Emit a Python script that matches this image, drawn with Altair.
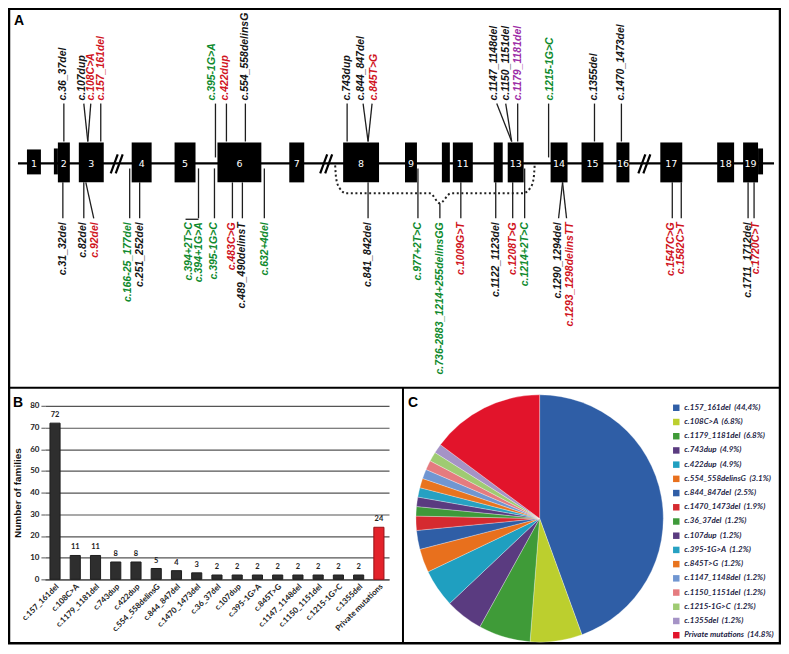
import altair as alt
import pandas as pd

W, H = 773, 636
NARROW = "Lato"
SANS = "Liberation Sans"

# ---------------- Panel A: schematic gene (drawing units) ----------------
exon_label = ["1", "2", "3", "4", "5", "6", "7", "8", "9", "", "11", "", "13", "14", "15", "16", "17", "18", "19"]
exon_start = [26, 57, 78, 131, 174, 217, 289, 343, 405, 442, 453, 494, 508, 551, 582, 617, 661, 718, 744]
exon_end = [40, 69, 103, 151, 195, 261, 304, 379, 417, 450, 473, 503, 524, 568, 604, 630, 683, 735, 759]
exon_type = ["utr"] + ["coding"] * 18
utr_start = [53, 759]
utr_end = [57, 764]
gene_span = [17, 775]
gap_marks = [116, 326, 645]

up_name = ["c.36_37del", "c.107dup", "c.108C>A", "c.157_161del", "c.395-1G>A", "c.422dup",
           "c.554_558delinsG", "c.743dup", "c.844_847del", "c.845T>G", "c.1147_1148del",
           "c.1150_1151del", "c.1179_1181del", "c.1215-1G>C", "c.1355del", "c.1470_1473del"]
up_col = ["k", "k", "r", "r", "g", "r", "k", "k", "k", "r", "k", "k", "p", "g", "k", "k"]
up_label_x = [62, 81, 90, 100, 212, 225, 245, 347, 361, 374, 494, 506, 518, 550, 595, 622]
up_stem_x = [63, 83, 90, 100, 215, 226, 245, 347, 363, 372, 497, 506, 518, 549, 595, 622]
up_site_x = [63, 87, 87, 100, 215, 226, 245, 347, 368, 368, 512, 512, 518, 549, 595, 622]
up_kind = ["exon", "exon", "exon", "exon", "intron", "exon", "exon", "exon", "exon", "exon",
           "exon", "exon", "exon", "intron", "exon", "exon"]

lo_name = ["c.31_32del", "c.82del", "c.92del", "c.166-25_177del", "c.251_252del", "c.394+2T>C",
           "c.394+1G>A", "c.395-1G>C", "c.483C>G", "c.489_490delinsT", "c.632+4del", "c.841_842del",
           "c.977+2T>C", "c.736-2883_1214+255delinsGG", "c.1009G>T", "c.1122_1123del", "c.1208T>G",
           "c.1214+2T>C", "c.1290_1294del", "c.1293_1298delinsTT", "c.1547C>G", "c.1582C>T",
           "c.1711_1712del", "c.1720C>T"]
lo_col = ["k", "k", "r", "g", "k", "g", "g", "g", "r", "k", "g", "k", "g", "g", "r", "k", "r", "g",
          "k", "r", "r", "r", "k", "r"]
lo_label_x = [62, 82, 94, 127, 139, 188, 199, 214, 232, 242, 265, 368, 418, 440, 461, 496, 513, 525,
              558, 570, 672, 682, 749, 757]
lo_stem_x = [62, 83, 93, 129, 139, 198, 198, 214, 232, 242, 264, 368, 418, 440, 461, 496, 513, 525,
             559, 567, 673, 682, 749, 755]
lo_site_x = [62, 83, 85, 129, 139, 198, 198, 214, 232, 242, 264, 368, 418, 440, 461, 496, 513, 525,
             563, 563, 673, 682, 749, 755]
lo_kind = ["exon", "exon", "exon", "intron", "exon", "intron", "none", "intron", "exon", "exon",
           "intron", "exon", "intron", "brace", "exon", "exon", "exon", "intron", "exon", "exon",
           "exon", "exon", "exon", "exon"]
bracket_from = [185]
bracket_to = [198]

brace_x = [335, 336, 339, 346, 430, 440, 451, 523, 531, 534, 535]
brace_y = [2, 15, 24, 30, 30, 40, 30, 30, 24, 15, 2]

mut_colors = ["#151515", "#d0141e", "#0f8a2e", "#9d2ea6"]
mut_kinds = ["k", "r", "g", "p"]

# ---------------- Panel B / C data ----------------
mutations = ["c.157_161del", "c.108C>A", "c.1179_1181del", "c.743dup", "c.422dup", "c.554_558delinsG",
             "c.844_847del", "c.1470_1473del", "c.36_37del", "c.107dup", "c.395-1G>A", "c.845T>G",
             "c.1147_1148del", "c.1150_1151del", "c.1215-1G>C", "c.1355del", "Private mutations"]
families = [72, 11, 11, 8, 8, 5, 4, 3, 2, 2, 2, 2, 2, 2, 2, 2, 24]
pct_text = ["44,4%", "6.8%", "6.8%", "4.9%", "4.9%", "3.1%", "2.5%", "1.9%", "1.2%", "1.2%", "1.2%",
            "1.2%", "1.2%", "1.2%", "1.2%", "1.2%", "14.8%"]
pie_colors = ["#2f5ea6", "#bccf2e", "#3f9b38", "#5a3b80", "#1f9fc0", "#e8701d", "#2f5ea6", "#d52a30",
              "#3e9a3a", "#5a3b80", "#26a1c2", "#e8741f", "#7096d1", "#e57b7f", "#9fcb72", "#a593c6",
              "#e2142b"]
y_ticks = [0, 10, 20, 30, 40, 50, 60, 70, 80]


def sx():
    return alt.Scale(domain=[8, 8 + W], range=[0, W], nice=False, zero=False)


def sy():
    return alt.Scale(domain=[-155, -155 + H], range=[0, H], nice=False, zero=False)


def col_scale():
    return alt.Scale(domain=mut_kinds, range=mut_colors)


def X(f):
    return alt.X(f, scale=sx(), axis=None)


def Y(f):
    return alt.Y(f, scale=sy(), axis=None)


dummy = pd.DataFrame({"d": [0]})

gene_line = alt.Chart(pd.DataFrame({"s": [gene_span[0]], "e": [gene_span[1]], "y": [0]})).mark_rule(
    color="black", strokeWidth=2.4).encode(x=X("s:Q"), x2="e:Q", y=Y("y:Q"))

exon_df = pd.DataFrame({"lab": exon_label, "s": exon_start, "e": exon_end, "t": exon_type})
exons = alt.Chart(exon_df).transform_calculate(
    top="datum.t == 'utr' ? -14 : -21", bot="datum.t == 'utr' ? 11 : 19"
).mark_rect(color="black").encode(x=X("s:Q"), x2="e:Q", y=Y("top:Q"), y2="bot:Q")

utrs = alt.Chart(pd.DataFrame({"s": utr_start, "e": utr_end})).transform_calculate(
    top="-15", bot="11").mark_rect(color="black").encode(x=X("s:Q"), x2="e:Q", y=Y("top:Q"), y2="bot:Q")

exon_nums = alt.Chart(exon_df).transform_filter("datum.lab != ''").transform_calculate(
    mid="(datum.s + datum.e) / 2", yy="1"
).mark_text(color="white", font="DejaVu Sans", fontSize=9.5, baseline="middle", align="center").encode(
    x=X("mid:Q"), y=Y("yy:Q"), text="lab:N")

gap_df = pd.DataFrame([{"g": g, "k": k} for g in gap_marks for k in (0, 1)])
gaps = alt.Chart(gap_df).transform_calculate(
    xa="datum.g - 6 + 5 * datum.k", xb="datum.g + 1 + 5 * datum.k", ya="10", yb="-9"
).mark_rule(color="black", strokeWidth=2.2).encode(x=X("xa:Q"), x2="xb:Q", y=Y("ya:Q"), y2="yb:Q")

up_df = pd.DataFrame({"name": up_name, "col": up_col, "lx": up_label_x, "tx": up_stem_x,
                      "sx": up_site_x, "kind": up_kind})
up_stems = alt.Chart(up_df).transform_calculate(
    ya="-60", yb="datum.kind == 'intron' ? -6 : -22"
).mark_rule(color="#1e1e1e", strokeWidth=1.3).encode(x=X("tx:Q"), x2="sx:Q", y=Y("ya:Q"), y2="yb:Q")
up_labels = alt.Chart(up_df).transform_calculate(yy="-63").mark_text(
    angle=270, align="left", baseline="middle", font=SANS, fontSize=10.5, fontStyle="italic",
    fontWeight="bold").encode(x=X("lx:Q"), y=Y("yy:Q"), text="name:N",
                              color=alt.Color("col:N", scale=col_scale(), legend=None))

lo_df = pd.DataFrame({"name": lo_name, "col": lo_col, "lx": lo_label_x, "tx": lo_stem_x,
                      "sx": lo_site_x, "kind": lo_kind})
lo_stems = alt.Chart(lo_df).transform_filter("datum.kind != 'none'").transform_calculate(
    ya="55", yb="datum.kind == 'intron' ? 5 : (datum.kind == 'brace' ? 40 : 19)"
).mark_rule(color="#1e1e1e", strokeWidth=1.3).encode(x=X("tx:Q"), x2="sx:Q", y=Y("ya:Q"), y2="yb:Q")
lo_labels = alt.Chart(lo_df).transform_calculate(yy="59").mark_text(
    angle=270, align="right", baseline="middle", font=SANS, fontSize=10.5, fontStyle="italic",
    fontWeight="bold").encode(x=X("lx:Q"), y=Y("yy:Q"), text="name:N",
                              color=alt.Color("col:N", scale=col_scale(), legend=None))
bracket = alt.Chart(pd.DataFrame({"a": bracket_from, "b": bracket_to})).transform_calculate(
    yy="56").mark_rule(color="#1e1e1e", strokeWidth=1.3).encode(x=X("a:Q"), x2="b:Q", y=Y("yy:Q"))

brace = alt.Chart(pd.DataFrame({"x": brace_x, "y": brace_y, "o": list(range(len(brace_x)))})).mark_line(
    color="#222222", strokeWidth=2, strokeDash=[2, 2.6], interpolate="monotone").encode(
    x=X("x:Q"), y=Y("y:Q"), order="o:Q")

# ---------------- Panel B: bar chart ----------------
bar_df = pd.DataFrame({"mutation": mutations, "families": families})
xb_scale = alt.Scale(domain=mutations, range=[36, 381], paddingInner=0.5, paddingOuter=0.25)
yb_scale = alt.Scale(domain=[0, 80], range=[572, 398], nice=False)
is_private = alt.datum.mutation == "Private mutations"
bars = alt.Chart(bar_df).mark_bar(strokeWidth=1).encode(
    x=alt.X("mutation:N", scale=xb_scale, sort=mutations,
            axis=alt.Axis(orient="bottom", offset=-64, title=None, labelAngle=-45, labelAlign="right",
                          labelBaseline="top", labelFont=NARROW, labelFontSize=8, labelFontWeight="bold",
                          labelColor="#222222", ticks=False, domain=True, domainColor="#555555",
                          domainWidth=1.3, labelPadding=3, grid=False)),
    y=alt.Y("families:Q", scale=yb_scale,
            axis=alt.Axis(orient="left", offset=-36, values=y_ticks, grid=True, gridColor="#555555",
                          gridWidth=1.2, tickColor="#555555", tickSize=4, domain=False,
                          labelFont=NARROW, labelFontSize=8, labelFontWeight="bold", labelColor="#222222",
                          labelPadding=2, title="Number of families", titleFont=SANS, titleFontSize=10,
                          titleFontWeight="bold", titleColor="#111111", titleX=-22)),
    color=alt.condition(is_private, alt.value("#e3232b"), alt.value("#2e2e2e")),
    stroke=alt.condition(is_private, alt.value("#9a1016"), alt.value("#1e1e1e")),
)
bar_vals = alt.Chart(bar_df).mark_text(baseline="bottom", dy=-4, font=NARROW, fontSize=7.5,
                                       fontWeight="bold", color="#222222").encode(
    x=alt.X("mutation:N", scale=xb_scale, sort=mutations, axis=None),
    y=alt.Y("families:Q", scale=yb_scale, axis=None),
    text="families:Q")

# ---------------- Panel C: pie ----------------
legend_text = [m + "\u00a0\u00a0(" + p + ")" for m, p in zip(mutations, pct_text)]
pie_df = pd.DataFrame({"lab": legend_text, "n": families, "o": list(range(len(families)))})
pie = alt.Chart(pie_df).mark_arc(radius=124, stroke="white", strokeWidth=0.3).encode(
    theta=alt.Theta("n:Q", stack=True),
    order=alt.Order("o:Q"),
    color=alt.Color("lab:N", sort=legend_text, scale=alt.Scale(domain=legend_text, range=pie_colors),
                    legend=alt.Legend(orient="none", legendX=665, legendY=396, title=None,
                                      symbolType="square", symbolSize=42, symbolStrokeWidth=0,
                                      labelFont=NARROW, labelFontSize=8, labelFontStyle="italic",
                                      labelFontWeight="bold", labelColor="#1d1d45", rowPadding=6.25,
                                      labelOffset=4, labelLimit=220)),
    x=alt.value(532), y=alt.value(511),
)

# ---------------- panel frames and letters ----------------
hsep = alt.Chart(dummy).mark_rule(color="black", strokeWidth=2).encode(
    x=alt.value(0), x2=alt.value(W), y=alt.value(380))
vsep = alt.Chart(dummy).mark_rule(color="black", strokeWidth=2).encode(
    x=alt.value(395), y=alt.value(380), y2=alt.value(H))
letters = [
    alt.Chart(dummy).mark_text(text=t, font=SANS, fontSize=14, fontWeight="bold", align="left",
                               baseline="top", color="black").encode(x=alt.value(px), y=alt.value(py))
    for t, px, py in [("A", 5, 5), ("B", 4, 388), ("C", 400, 388)]
]

chart = alt.layer(
    gene_line, exons, utrs, gaps, exon_nums, brace, up_stems, up_labels, lo_stems, bracket, lo_labels,
    bars, bar_vals, pie, hsep, vsep, *letters
).resolve_scale(
    x="independent", y="independent", color="independent"
).properties(width=W, height=H, padding=0, background="white").configure_view(
    stroke="black", strokeWidth=2.5)

chart.save("out.html", embed_options={"renderer": "svg", "actions": False})
